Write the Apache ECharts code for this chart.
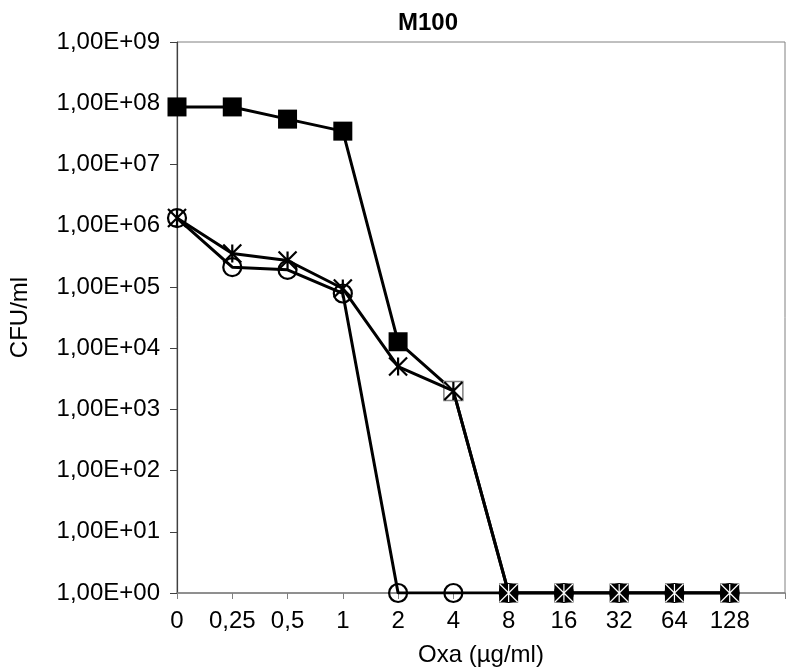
<!DOCTYPE html>
<html><head><meta charset="utf-8">
<script src="https://cdn.jsdelivr.net/npm/echarts@6/dist/echarts.min.js"></script>
<style>html,body{margin:0;padding:0;background:#fff}#c{width:792px;height:672px}</style>
</head><body><div id="c"></div>
<script>
const categories = ['0', '0,25', '0,5', '1', '2', '4', '8', '16', '32', '64', '128', ''];
const squareValues = [8.7e7, 8.7e7, 5.5e7, 3.5e7, 1.27e4, 2.0e3, 1, 1, 1, 1, 1];
const starValues = [1.33e6, 3.5e5, 2.7e5, 9.4e4, 5.0e3, 2.0e3, 1, 1, 1, 1, 1];
const circleValues = [1.33e6, 2.1e5, 1.9e5, 7.8e4, 1, 1, 1, 1, 1, 1, 1];
const yTickLabels = ['1,00E+00', '1,00E+01', '1,00E+02', '1,00E+03', '1,00E+04', '1,00E+05', '1,00E+06', '1,00E+07', '1,00E+08', '1,00E+09'];

const FONT = 'Liberation Sans, Arial, sans-serif';
const starPath = 'path://M0,0L10,10M10,0L0,10M5,0L5,10';

const squareData = squareValues.map((v, i) => {
  if (i === 5) return { value: v, itemStyle: { color: '#fff', borderColor: '#808080', borderWidth: 1.5 } };
  return v;
});
const starData = starValues.map((v, i) => {
  if (i >= 6) return { value: v, itemStyle: { borderColor: '#fff', borderWidth: 1.2 } };
  return v;
});

const chart = echarts.init(document.getElementById('c'), null, { renderer: 'canvas' });
chart.setOption({
  animation: false,
  backgroundColor: '#fff',
  title: {
    text: 'M100', left: 393, top: 6,
    textStyle: { fontFamily: FONT, fontSize: 24, fontWeight: 'bold', color: '#000' }
  },
  grid: { left: 164, right: 7, top: 42, bottom: 79, show: true, borderColor: '#808080', borderWidth: 1 },
  xAxis: {
    type: 'category', data: categories, boundaryGap: false,
    name: 'Oxa (µg/ml)', nameLocation: 'middle', nameGap: 50,
    nameTextStyle: { fontFamily: FONT, fontSize: 24, color: '#000' },
    axisLine: { lineStyle: { color: '#808080', width: 1.5 } },
    axisTick: { show: true, length: 6, alignWithLabel: true, interval: 0, lineStyle: { color: '#808080' } },
    axisLabel: { fontFamily: FONT, fontSize: 24, color: '#000', margin: 16, interval: 0 },
    splitLine: { show: false }
  },
  yAxis: {
    type: 'log', logBase: 10, min: 1, max: 1e9, splitNumber: 9,
    name: 'CFU/ml', nameLocation: 'middle', nameGap: 145,
    nameTextStyle: { fontFamily: FONT, fontSize: 24, color: '#000' },
    axisLine: { show: true, lineStyle: { color: '#404040', width: 1.2 } },
    axisTick: { show: true, length: 7, lineStyle: { color: '#404040' } },
    axisLabel: {
      fontFamily: FONT, fontSize: 24, color: '#000', margin: 17,
      formatter: v => yTickLabels[Math.round(Math.log10(v))]
    },
    splitLine: { show: false },
    minorTick: { show: false }
  },
  series: [
    {
      type: 'line', data: squareData, symbol: 'rect', symbolSize: 19,
      itemStyle: { color: '#000' }, lineStyle: { color: '#000', width: 3 }, z: 2
    },
    {
      type: 'line', data: circleValues, symbol: 'circle', symbolSize: 18,
      itemStyle: { color: 'rgba(0,0,0,0)', borderColor: '#000', borderWidth: 2.2 },
      lineStyle: { color: '#000', width: 3 }, z: 3
    },
    {
      type: 'line', data: starData, symbol: starPath, symbolSize: 18,
      itemStyle: { color: 'rgba(0,0,0,0)', borderColor: '#000', borderWidth: 2.2 },
      lineStyle: { color: '#000', width: 3 }, z: 4
    }
  ]
});
</script></body></html>
